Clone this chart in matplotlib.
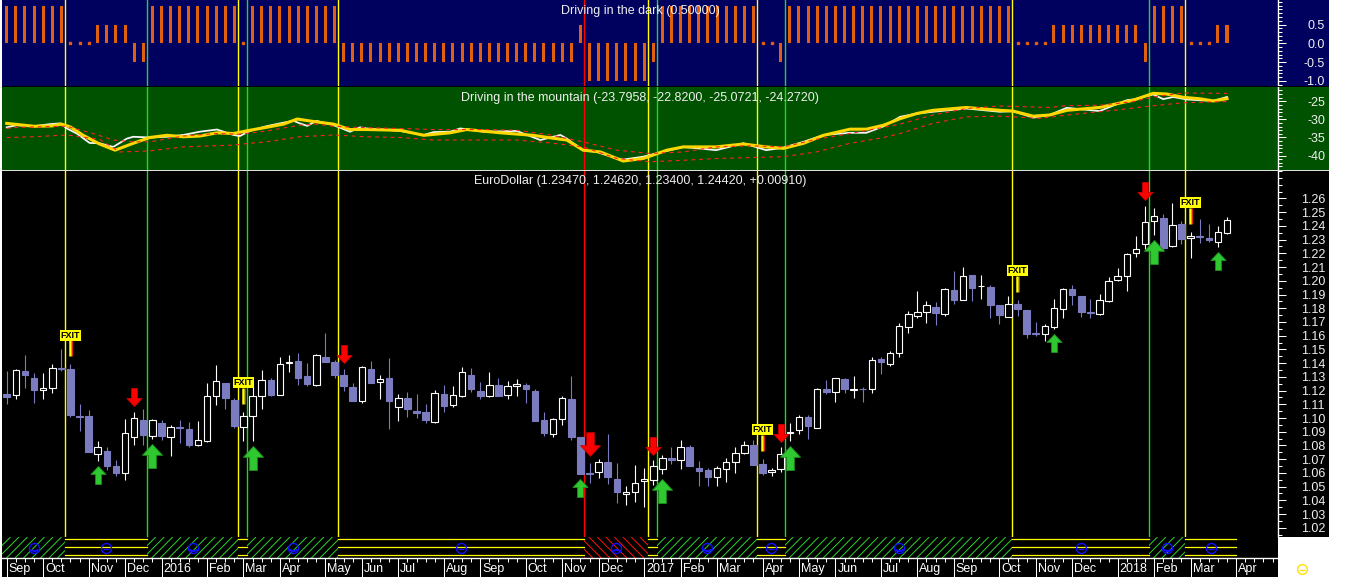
import matplotlib
matplotlib.use("Agg")
import matplotlib.pyplot as plt
import numpy as np
import pandas as pd
from matplotlib.collections import LineCollection
from matplotlib.lines import Line2D
from matplotlib.patches import Rectangle
from matplotlib.path import Path
from matplotlib.transforms import offset_copy

plt.rcParams['font.family'] = ['Liberation Sans', 'DejaVu Sans']

W, H, DPI = 1352, 577, 100

# weekly EUR/USD candles, week ending 2015-09-04 .. 2018-03-30
opens = [1.1177, 1.1167, 1.1342, 1.1292, 1.1203, 1.1222, 1.1362, 1.1354, 1.1016, 1.1018,
         1.0740, 1.0759, 1.0651, 1.0599, 1.0865, 1.0987, 1.0867, 1.0966, 1.0865, 1.0932,
         1.0923, 1.0804, 1.0833, 1.1164, 1.1256, 1.1133, 1.0934, 1.1016, 1.1160, 1.1275,
         1.1167, 1.1400, 1.1412, 1.1304, 1.1239, 1.1448, 1.1407, 1.1311, 1.1227, 1.1121,
         1.1357, 1.1265, 1.1290, 1.1081, 1.1146, 1.1052, 1.1047, 1.0970, 1.1177, 1.1095,
         1.1164, 1.1313, 1.1198, 1.1157, 1.1239, 1.1167, 1.1232, 1.1241, 1.1198, 1.0982,
         1.0887, 1.0995, 1.1141, 1.0860, 1.0600, 1.0606, 1.0680, 1.0557, 1.0447, 1.0462,
         1.0543, 1.0548, 1.0627, 1.0709, 1.0697, 1.0788, 1.0639, 1.0622, 1.0570, 1.0625,
         1.0682, 1.0747, 1.0807, 1.0663, 1.0610, 1.0625, 1.0891, 1.0915, 1.1004, 1.0927,
         1.1213, 1.1189, 1.1287, 1.1203, 1.1215, 1.1210, 1.1431, 1.1395, 1.1477, 1.1661,
         1.1743, 1.1772, 1.1810, 1.1755, 1.1930, 1.1858, 1.2041, 1.1959, 1.1954, 1.1822,
         1.1736, 1.1832, 1.1784, 1.1623, 1.1611, 1.1666, 1.1791, 1.1940, 1.1892, 1.1774,
         1.1755, 1.1851, 1.2007, 1.2038, 1.2204, 1.2266, 1.2439, 1.2458, 1.2252, 1.2415,
         1.2309, 1.2329, 1.2314, 1.2283, 1.2347]
highs = [1.1340, 1.1359, 1.1462, 1.1328, 1.1328, 1.1393, 1.1500, 1.1390, 1.1103, 1.1060,
         1.0836, 1.0788, 1.0694, 1.0990, 1.1047, 1.1069, 1.0990, 1.0987, 1.0948, 1.0987,
         1.0968, 1.0975, 1.1256, 1.1385, 1.1256, 1.1148, 1.1047, 1.1263, 1.1347, 1.1292,
         1.1441, 1.1457, 1.1472, 1.1400, 1.1467, 1.1623, 1.1424, 1.1359, 1.1256, 1.1378,
         1.1419, 1.1311, 1.1436, 1.1177, 1.1189, 1.1177, 1.1100, 1.1203, 1.1241, 1.1234,
         1.1371, 1.1364, 1.1263, 1.1335, 1.1292, 1.1268, 1.1283, 1.1256, 1.1213, 1.1047,
         1.0999, 1.1157, 1.1306, 1.0860, 1.0673, 1.0699, 1.0882, 1.0673, 1.0507, 1.0658,
         1.0635, 1.0694, 1.0728, 1.0786, 1.0838, 1.0807, 1.0687, 1.0635, 1.0651, 1.0711,
         1.0790, 1.0836, 1.0843, 1.0704, 1.0639, 1.0788, 1.0961, 1.1023, 1.1023, 1.1220,
         1.1277, 1.1292, 1.1294, 1.1306, 1.1227, 1.1448, 1.1443, 1.1491, 1.1695, 1.1779,
         1.1923, 1.1851, 1.1846, 1.1947, 1.2069, 1.2098, 1.2041, 1.2041, 1.1969, 1.1822,
         1.1887, 1.1863, 1.1784, 1.1700, 1.1683, 1.1868, 1.1947, 1.1969, 1.1892, 1.1868,
         1.1906, 1.2031, 1.2093, 1.2199, 1.2329, 1.2545, 1.2528, 1.2487, 1.2564, 1.2436,
         1.2357, 1.2451, 1.2415, 1.2396, 1.2462]
lows = [1.1100, 1.1139, 1.1220, 1.1112, 1.1141, 1.1179, 1.1340, 1.1011, 1.0908, 1.0754,
        1.0689, 1.0622, 1.0577, 1.0548, 1.0804, 1.0807, 1.0850, 1.0843, 1.0723, 1.0819,
        1.0786, 1.0797, 1.0826, 1.1092, 1.1069, 1.0925, 1.0833, 1.0836, 1.1067, 1.1162,
        1.1167, 1.1337, 1.1239, 1.1232, 1.1232, 1.1407, 1.1292, 1.1196, 1.1121, 1.1110,
        1.1258, 1.1136, 1.0920, 1.0977, 1.1006, 1.0999, 1.0963, 1.0963, 1.1047, 1.1078,
        1.1155, 1.1193, 1.1136, 1.1150, 1.1157, 1.1136, 1.1164, 1.1107, 1.0977, 1.0872,
        1.0862, 1.0946, 1.0843, 1.0594, 1.0524, 1.0560, 1.0516, 1.0380, 1.0368, 1.0387,
        1.0351, 1.0509, 1.0591, 1.0668, 1.0625, 1.0649, 1.0505, 1.0505, 1.0505, 1.0536,
        1.0603, 1.0735, 1.0660, 1.0586, 1.0579, 1.0610, 1.0831, 1.0884, 1.0848, 1.0927,
        1.1172, 1.1119, 1.1179, 1.1143, 1.1119, 1.1179, 1.1323, 1.1380, 1.1443, 1.1623,
        1.1731, 1.1695, 1.1676, 1.1743, 1.1832, 1.1858, 1.1851, 1.1868, 1.1726, 1.1683,
        1.1736, 1.1743, 1.1582, 1.1600, 1.1563, 1.1647, 1.1726, 1.1820, 1.1738, 1.1726,
        1.1750, 1.1844, 1.2002, 1.1923, 1.2175, 1.2230, 1.2336, 1.2216, 1.2247, 1.2266,
        1.2168, 1.2276, 1.2283, 1.2247, 1.2340]
closes = [1.1150, 1.1347, 1.1316, 1.1205, 1.1218, 1.1362, 1.1357, 1.1020, 1.1011, 1.0754,
          1.0786, 1.0653, 1.0600, 1.0894, 1.1002, 1.0874, 1.0985, 1.0867, 1.0937, 1.0927,
          1.0804, 1.0840, 1.1164, 1.1270, 1.1143, 1.0941, 1.1016, 1.1160, 1.1275, 1.1167,
          1.1390, 1.1407, 1.1294, 1.1246, 1.1462, 1.1407, 1.1316, 1.1234, 1.1121, 1.1369,
          1.1258, 1.1283, 1.1121, 1.1146, 1.1064, 1.1040, 1.0982, 1.1182, 1.1090, 1.1167,
          1.1333, 1.1208, 1.1157, 1.1239, 1.1157, 1.1232, 1.1246, 1.1215, 1.0977, 1.0891,
          1.0995, 1.1146, 1.0862, 1.0594, 1.0591, 1.0678, 1.0567, 1.0459, 1.0464, 1.0527,
          1.0553, 1.0649, 1.0707, 1.0692, 1.0790, 1.0649, 1.0617, 1.0570, 1.0637, 1.0680,
          1.0743, 1.0807, 1.0660, 1.0596, 1.0620, 1.0735, 1.0898, 1.1011, 1.0939, 1.1213,
          1.1186, 1.1292, 1.1208, 1.1213, 1.1208, 1.1426, 1.1409, 1.1477, 1.1671, 1.1760,
          1.1772, 1.1822, 1.1767, 1.1938, 1.1861, 1.2036, 1.1949, 1.1964, 1.1820, 1.1748,
          1.1830, 1.1791, 1.1611, 1.1611, 1.1671, 1.1803, 1.1940, 1.1899, 1.1774, 1.1762,
          1.1858, 1.2002, 1.2038, 1.2192, 1.2228, 1.2427, 1.2470, 1.2242, 1.2410, 1.2302,
          1.2324, 1.2320, 1.2295, 1.2355, 1.2442]

# "Driving in the dark" histogram, one value per week
dark_values = [1, 1, 1, 1, 1, 1, 1, 0, 0, 0, 0.5, 0.5, 0.5, 0.5, -0.5, -0.5,
               1, 1, 1, 1, 1, 1, 1, 1, 1, 1, 0, 1, 1, 1, 1, 1, 1, 1, 1, 1, 1,
               -0.5, -0.5, -0.5, -0.5, -0.5, -0.5, -0.5, -0.5, -0.5, -0.5, -0.5, -0.5, -0.5,
               -0.5, -0.5, -0.5, -0.5, -0.5, -0.5, -0.5, -0.5, -0.5, -0.5, -0.5, -0.5, -0.5,
               0.5, -1, -1, -1, -1, -1, -1, -1, -0.5,
               1, 1, 1, 1, 1, 1, 1, 1, 1, 1, 1, 0, 0, -0.5,
               1, 1, 1, 1, 1, 1, 1, 1, 1, 1, 1, 1, 1, 1, 1, 1, 1, 1, 1, 1, 1, 1, 1, 1, 1,
               0, 0, 0, 0, 0.5, 0.5, 0.5, 0.5, 0.5, 0.5, 0.5, 0.5, 0.5, 0.5, -0.5,
               1, 1, 1, 1, 0, 0, 0, 0.5, 0.5]

# "Driving in the mountain" lines (week index, value)
yellow_weeks = [0, 3, 5, 6, 7, 8.4, 10.2, 11.9, 13.9, 15.7, 17.6, 19.4, 21.2, 23.1, 24.9, 26.7,
                28.5, 30.4, 31.9, 34.0, 35.9, 37.7, 39.5, 43.2, 45.8, 48.7, 50.5, 54.2, 57.8,
                59.7, 61.5, 63.3, 65.2, 67.7, 69.9, 72.5, 74.3, 77.9, 80.9, 83.4, 85.3, 87.5,
                89.7, 92.6, 94.4, 96.3, 98.1, 99.9, 101.7, 105.4, 109.1, 110.5, 112.7, 114.5,
                116.4, 120.0, 123.7, 125.9, 127.4, 129.2, 131.0, 132.5, 134.0]
yellow_vals = [-31.1, -31.9, -31.8, -31.3, -32.1, -34.4, -36.8, -38.5, -36.6, -35.0, -34.4,
               -34.8, -34.6, -33.7, -33.9, -33.0, -32.2, -31.3, -29.9, -30.7, -31.3, -32.8,
               -32.8, -33.0, -34.4, -33.7, -32.8, -33.7, -34.4, -35.1, -35.7, -38.5, -39.0,
               -41.5, -40.8, -38.5, -37.6, -37.6, -36.8, -37.6, -38.0, -36.6, -34.4, -32.7,
               -32.7, -31.6, -29.8, -28.4, -27.5, -26.7, -27.5, -27.7, -29.1, -28.8, -27.5,
               -26.7, -24.7, -22.8, -23.0, -23.9, -24.3, -24.9, -24.27]
white_weeks = [0, 1.1, 2.9, 4.8, 5.9, 6.6, 7.7, 9.1, 10.2, 11.7, 13.2, 13.9, 15.7, 17.6, 19.4,
               21.2, 23.1, 24.9, 25.6, 26.7, 28.5, 30.4, 31.5, 32.2, 33.0, 34.0, 35.9, 37.7,
               38.8, 39.5, 43.2, 45.8, 46.9, 48.7, 49.8, 52.4, 56.0, 58.6, 60.8, 61.5, 63.3,
               64.8, 67.0, 67.7, 69.9, 72.5, 74.3, 77.9, 80.9, 83.4, 85.3, 87.5, 89.7, 92.6,
               94.4, 96.3, 98.1, 99.9, 101.7, 105.4, 109.1, 110.5, 112.7, 114.5, 116.4, 120.0,
               123.0, 123.7, 125.9, 127.0, 128.1, 129.6, 131.0, 132.5, 134.0]
white_vals = [-32.2, -31.6, -31.9, -31.3, -31.1, -32.5, -33.9, -36.5, -36.6, -37.6, -35.3,
              -34.8, -35.0, -34.8, -34.3, -33.4, -32.8, -34.3, -34.6, -33.2, -31.9, -30.9,
              -30.4, -31.1, -31.8, -30.4, -31.6, -33.4, -32.2, -32.5, -33.2, -34.3, -33.5,
              -33.4, -32.5, -33.4, -33.2, -35.7, -34.3, -35.3, -38.5, -39.0, -40.8, -41.1,
              -40.3, -38.7, -37.6, -38.5, -36.6, -38.5, -37.8, -36.2, -34.3, -33.7, -33.7,
              -31.9, -29.3, -28.4, -27.9, -27.0, -27.9, -27.7, -29.5, -28.8, -26.8, -27.7,
              -24.7, -24.5, -23.1, -24.4, -23.8, -24.5, -24.7, -24.9, -23.80]
red_fast_weeks = [0, 1.1, 6.6, 9.5, 11.7, 13.9, 15.7, 19.4, 23.1, 25.6, 28.5, 32.2, 34.0, 35.9,
                  39.5, 43.2, 46.9, 52.4, 56.0, 59.7, 63.3, 67.0, 70.6, 74.3, 77.9, 81.6, 85.3,
                  88.9, 92.6, 96.3, 98.1, 101.7, 105.4, 109.1, 114.5, 116.4, 120.0, 123.7,
                  125.9, 129.2, 134.0]
red_fast_vals = [-32.5, -32.2, -31.9, -33.9, -35.7, -36.2, -36.2, -34.6, -33.9, -34.1, -33.2,
                 -31.6, -31.3, -31.9, -32.3, -32.5, -32.8, -32.8, -33.0, -34.3, -36.2, -38.5,
                 -39.4, -39.0, -37.6, -37.3, -37.6, -35.5, -33.9, -32.2, -31.3, -28.8, -27.0,
                 -26.3, -26.7, -26.2, -26.1, -25.1, -23.8, -22.7, -22.82]
red_slow_weeks = [0, 2.9, 6.6, 10.2, 12.4, 15.7, 19.4, 24.9, 26.7, 28.5, 32.2, 35.9, 39.5, 43.2,
                  46.9, 52.4, 56.0, 59.7, 63.3, 67.0, 70.6, 74.3, 77.9, 85.3, 88.9, 92.6, 96.3,
                  98.1, 101.7, 105.4, 109.1, 113.5, 116.4, 121.9, 125.6, 129.2, 134.0]
red_slow_vals = [-35.0, -34.8, -34.3, -35.5, -39.0, -38.7, -37.6, -37.1, -36.6, -36.2, -34.8,
                 -34.3, -34.8, -35.0, -35.7, -35.7, -35.7, -36.5, -37.6, -40.8, -41.7, -41.3,
                 -40.8, -40.3, -39.0, -36.6, -35.0, -33.9, -31.1, -29.3, -29.1, -29.7, -28.8,
                 -27.4, -26.3, -25.4, -25.07]

# signal weeks (vertical lines) and their kinds
signal_weeks = [6, 15, 25, 26, 36, 63, 70, 71, 82, 85, 110, 125, 129]
signal_kinds = ["exit", "long", "exit", "long", "exit", "short", "exit", "long",
                "exit", "long", "exit", "long", "exit"]
buy_small = [10, 63, 115, 133]
buy_big = [16, 27, 72, 86, 126]
sell_small = [14, 37, 71, 85, 125]
sell_big = [64]
exit_weeks = [7, 26, 83, 111, 130]

title_dark = "Driving in the dark (0.50000)"
title_mtn = "Driving in the mountain (-23.7958, -22.8200, -25.0721, -24.2720)"
title_px = "EuroDollar (1.23470, 1.24620, 1.23400, 1.24420, +0.00910)"

KIND_COLORS = {"exit": "#FFFF00", "long": "#20D820", "short": "#FF0000"}
UP_EDGE = "white"
DOWN_COLOR = "#7B7BC0"
TEXT_COLOR = "#F0F0F0"
XLIM = (-0.516, 139.6)
PX_PER_WEEK = 1276 / (XLIM[1] - XLIM[0])


def frac_box(x0, y0, x1, y1):
    return [x0 / W, 1 - y1 / H, (x1 - x0) / W, (y1 - y0) / H]


def fig_rect(fig, x0, y0, x1, y1, color, z=-1):
    fig.add_artist(Rectangle((x0 / W, 1 - y1 / H), (x1 - x0) / W, (y1 - y0) / H,
                             transform=fig.transFigure, facecolor=color,
                             edgecolor="none", zorder=z))


def style_right_axis(ax, majors, labels, minors, pad_px=47):
    for side in ("top", "left", "bottom"):
        ax.spines[side].set_visible(False)
    ax.spines["right"].set_color("white")
    ax.spines["right"].set_linewidth(1)
    ax.set_xticks([])
    ax.yaxis.tick_right()
    ax.set_yticks(majors)
    ax.set_yticklabels(labels)
    ax.set_yticks(minors, minor=True)
    ax.tick_params(axis="y", which="major", length=5.5, width=0.75, colors="white",
                   labelcolor=TEXT_COLOR, labelsize=9, direction="out",
                   pad=(pad_px - 7.6) * 72 / DPI)
    ax.tick_params(axis="y", which="minor", length=3, width=0.75, colors="white",
                   direction="out")
    plt.setp(ax.get_yticklabels(), ha="right")


def arrow_path(up=True):
    s = 1 if up else -1
    verts = [(0, 0.5 * s), (0.42, 0.05 * s), (0.16, 0.05 * s), (0.16, -0.5 * s),
             (-0.16, -0.5 * s), (-0.16, 0.05 * s), (-0.42, 0.05 * s), (0, 0.5 * s)]
    codes = [Path.MOVETO] + [Path.LINETO] * 6 + [Path.CLOSEPOLY]
    return Path(verts, codes)


def hatch_segment(ax, x0, x1, color, rising=True, strip_px=21, step_px=8.5):
    """diagonal hatch lines clipped to [x0, x1] in the strip axes"""
    rise = strip_px / PX_PER_WEEK
    step = step_px / PX_PER_WEEK
    starts = np.arange(x0 - rise, x1 + step, step)
    if rising:
        segs = [[(s, 0), (s + rise, 1)] for s in starts]
    else:
        segs = [[(s, 1), (s + rise, 0)] for s in starts]
    clip = Rectangle((x0, 0), x1 - x0, 1, transform=ax.transData, facecolor="none",
                     edgecolor="none")
    ax.add_patch(clip)
    lc = LineCollection(segs, colors=color, linewidths=0.7, zorder=1)
    ax.add_collection(lc)
    lc.set_clip_path(clip)


def main():
    fig = plt.figure(figsize=(W / DPI, H / DPI), dpi=DPI, facecolor="white")

    # panel backgrounds that continue under the right-hand labels
    fig_rect(fig, 2, 0, 1329, 86, "#00005E")
    fig_rect(fig, 2, 87, 1329, 170, "#005200")
    fig_rect(fig, 2, 171, 1329, 537, "black")
    fig_rect(fig, 2, 537, 1278, 577, "black")
    fig_rect(fig, 2, 86, 1329, 87, "black", z=5)
    fig_rect(fig, 2, 170, 1329, 171, "#E0E0E0", z=5)

    n = len(opens)
    weeks = np.arange(n)
    dates = pd.date_range("2015-09-04", periods=140, freq="W-FRI")

    ax_dark = fig.add_axes(frac_box(2, 0, 1278, 86))
    ax_mtn = fig.add_axes(frac_box(2, 87, 1278, 170))
    ax_px = fig.add_axes(frac_box(2, 171, 1278, 537))
    ax_strip = fig.add_axes(frac_box(2, 537, 1278, 558))
    for ax in (ax_dark, ax_mtn, ax_px, ax_strip):
        ax.set_xlim(*XLIM)
        ax.patch.set_alpha(0)

    # --- dark panel
    ax_dark.set_ylim(-1.136, 1.152)
    vals = np.array(dark_values, dtype=float)
    nz = vals != 0
    ax_dark.bar(weeks[nz], vals[nz], width=0.33, color="#E0600F", zorder=2)
    ax_dark.plot(weeks[~nz], vals[~nz], "s", ms=1.5, color="#E0600F", zorder=2)
    style_right_axis(ax_dark, [-1, -0.5, 0, 0.5], ["-1.0", "-0.5", "0.0", "0.5"],
                     np.arange(-1.1, 1.15, 0.1))
    ax_dark.text(0.5, 0.872, title_dark, transform=ax_dark.transAxes, ha="center",
                 va="center", color=TEXT_COLOR, fontsize=9, zorder=10)

    # --- mountain panel
    ax_mtn.set_ylim(-43.98, -21.05)
    ax_mtn.plot(white_weeks, white_vals, color="#F4F4F4", lw=1.3, zorder=3)
    ax_mtn.plot(yellow_weeks, yellow_vals, color="#FFD700", lw=2.2, zorder=4)
    for wk, vv in ((red_fast_weeks, red_fast_vals), (red_slow_weeks, red_slow_vals)):
        ax_mtn.plot(wk, vv, color="#FF2020", lw=0.8, ls=(0, (3.5, 3.5)), zorder=5)
    style_right_axis(ax_mtn, [-40, -35, -30, -25], ["-40", "-35", "-30", "-25"],
                     np.arange(-43, -21, 1))
    ax_mtn.text(0.5, 0.871, title_mtn, transform=ax_mtn.transAxes, ha="center",
                va="center", color=TEXT_COLOR, fontsize=9, zorder=10)

    # --- price panel
    ax_px.set_ylim(1.0133, 1.2768)
    for i in range(n):
        o, h, l, c = opens[i], highs[i], lows[i], closes[i]
        up = c >= o
        col = UP_EDGE if up else DOWN_COLOR
        ax_px.vlines(i, l, h, color=col, lw=0.8, zorder=2)
        ax_px.add_patch(Rectangle((i - 0.36, min(o, c)), 0.72, abs(c - o),
                                  facecolor="black" if up else DOWN_COLOR,
                                  edgecolor=col, lw=0.8, zorder=3))
    major_px = np.round(np.arange(1.02, 1.265, 0.01), 2)
    style_right_axis(ax_px, major_px, [f"{v:.2f}" for v in major_px],
                     np.arange(1.015, 1.28, 0.005))
    ax_px.text(0.5, 0.9735, title_px, transform=ax_px.transAxes, ha="center",
               va="center", color=TEXT_COLOR, fontsize=9, zorder=10)

    # signal lines through the three panels
    for wk, kind in zip(signal_weeks, signal_kinds):
        for ax in (ax_dark, ax_mtn, ax_px):
            ax.axvline(wk + 0.43, color=KIND_COLORS[kind], lw=1, zorder=1)

    # arrows
    up_arrow, down_arrow = arrow_path(True), arrow_path(False)
    for idx, size, off in ((buy_small, 13, -14), (buy_big, 17.3, -17)):
        tr = offset_copy(ax_px.transData, fig=fig, y=off, units="dots")
        ax_px.plot(idx, [lows[i] for i in idx], ls="none", marker=up_arrow, ms=size,
                   mfc="#30C830", mec="#1F8F1F", mew=0.6, transform=tr, zorder=6)
    for idx, size, off in ((sell_small, 13, 14.5), (sell_big, 17, 19)):
        tr = offset_copy(ax_px.transData, fig=fig, y=off, units="dots")
        ax_px.plot(idx, [highs[i] for i in idx], ls="none", marker=down_arrow, ms=size,
                   mfc="#FF0000", mec="#C80000", mew=0.6, transform=tr, zorder=6)

    # exit flags
    for i in exit_weeks:
        tr_y = offset_copy(ax_px.transData, fig=fig, x=-0.6, y=16, units="dots")
        tr_r = offset_copy(ax_px.transData, fig=fig, x=1.3, y=16, units="dots")
        ax_px.plot([i], [highs[i]], marker="|", ms=11.5, mew=1.8, color="#FFFF00",
                   transform=tr_y, zorder=6)
        ax_px.plot([i], [highs[i]], marker="|", ms=11.5, mew=0.8, color="#E02000",
                   transform=tr_r, zorder=6)
        tr_t = offset_copy(ax_px.transData, fig=fig, y=29, units="dots")
        ax_px.text(i, highs[i], "FXIT", transform=tr_t, ha="center", va="center",
                   fontsize=6.5, fontweight="bold", color="black", zorder=7,
                   bbox=dict(boxstyle="square,pad=0.12", fc="#FFFF00", ec="none"))

    # --- regime strip
    ax_strip.set_ylim(0, 1)
    bounds = [XLIM[0]] + [w + 0.43 for w in signal_weeks] + [n + 0.0]
    kinds = ["long"] + signal_kinds
    for x0, x1, kind in zip(bounds[:-1], bounds[1:], kinds):
        if kind == "exit":
            for yy in (0.89, 0.51, 0.13):
                ax_strip.plot([x0, x1], [yy, yy], color="#FFFF00", lw=0.9, zorder=2)
        elif kind == "long":
            hatch_segment(ax_strip, x0, x1, "#2AD82A", rising=True)
        else:
            hatch_segment(ax_strip, x0, x1, "#FF1010", rising=False)
        if x1 - x0 > 2:
            xc = (x0 + x1) / 2
            ax_strip.plot([xc], [0.5], marker="o", ms=7.2, mfc="none", mec="#1010FF",
                          mew=1.0, zorder=4)
            face = {"exit": "_", "long": r"$\smile$", "short": r"$\frown$"}[kind]
            ax_strip.plot([xc], [0.45 if kind == "exit" else 0.4], marker=face,
                          ms=4.5 if kind == "exit" else 5, color="#1010FF", mew=1.0,
                          zorder=5)
    for side in ("top", "left", "right"):
        ax_strip.spines[side].set_visible(False)
    ax_strip.spines["bottom"].set_color("white")
    ax_strip.spines["bottom"].set_linewidth(1)
    ax_strip.set_yticks([])

    month_idx = [i for i, d in enumerate(dates) if d.day <= 7 and i <= n]
    ax_strip.set_xticks(month_idx)
    ax_strip.set_xticklabels([])
    ax_strip.set_xticks(np.arange(0, 140), minor=True)
    ax_strip.tick_params(axis="x", which="major", length=13.7, width=0.75, colors="white",
                         direction="out")
    ax_strip.tick_params(axis="x", which="minor", length=3, width=0.75, colors="white",
                         direction="out")
    for i in month_idx:
        d = dates[i]
        label = str(d.year) if d.month == 1 else d.strftime("%b")
        ax_strip.annotate(label, xy=(i, 0), xycoords=("data", "axes fraction"),
                          xytext=(2, -11), textcoords="offset pixels", ha="left",
                          va="center", color="white", fontsize=9)

    # small yellow face at bottom right
    fig.add_artist(Line2D([1302 / W], [1 - 569 / H], marker="o", ms=7, mfc="none",
                          mec="#FFE000", mew=1.0, transform=fig.transFigure))
    fig.add_artist(Line2D([1302 / W], [1 - 569.5 / H], marker="_", ms=4.5,
                          mec="#FFE000", mew=1.0, transform=fig.transFigure))

    fig.savefig("out.png", dpi=DPI, facecolor="white")


if __name__ == "__main__":
    main()
